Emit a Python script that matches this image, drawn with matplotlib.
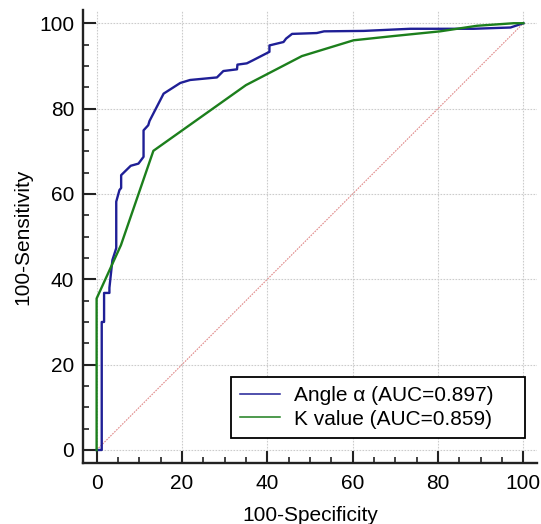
import matplotlib
matplotlib.use("Agg")
import matplotlib.pyplot as plt
from matplotlib.ticker import MultipleLocator

plt.rcParams['font.family'] = ['Liberation Sans', 'DejaVu Sans']

angle_x = [0, 1.2, 1.2, 1.75, 1.75, 3.0, 3.0, 3.7, 4.6, 4.6, 5.35, 5.75, 5.75, 8.0, 9.8, 11.0,
           11.0, 12.1, 12.4, 15.7, 19.6, 21.9, 28.2, 29.7, 32.9, 33.0, 35.2, 36.6, 40.5, 40.5,
           43.8, 44.4, 45.8, 51.6, 53.3, 62.6, 73.5, 88.3, 97.0, 100]
angle_y = [0, 0, 30, 30, 36.8, 36.8, 38, 44.5, 47.3, 58.2, 60.9, 61.4, 64.4, 66.6, 67.1, 68.7,
           74.9, 76.1, 77.1, 83.5, 86.0, 86.7, 87.3, 88.8, 89.2, 90.3, 90.6, 91.3, 93.3, 94.8,
           95.6, 96.4, 97.5, 97.7, 98.1, 98.2, 98.7, 98.7, 99.0, 100]
k_x = [0, 0, 5.7, 13.3, 35.0, 48.1, 60.2, 69.6, 80.5, 89.1, 97.7, 100]
k_y = [0, 35.5, 48, 70.1, 85.5, 92.3, 96.0, 97.0, 98.1, 99.4, 100, 100]
ref_x = [0, 100]
ref_y = [0, 100]
labels = ["Angle \u03b1 (AUC=0.897)", "K value (AUC=0.859)"]

fig = plt.figure(figsize=(5.41, 5.24), dpi=100)
ax = fig.add_axes([82.7/541, 1-463/524, (537-82.7)/541, (463-10)/524])

ax.plot(ref_x, ref_y, color='#e08a8a', lw=0.8, ls=(0, (1.5, 1.0)), zorder=2)
ax.plot(angle_x, angle_y, color='#1f1f96', lw=1.7, label=labels[0], zorder=3)
ax.plot(k_x, k_y, color='#1c7f1c', lw=1.7, label=labels[1], zorder=3)

ax.set_xlim(-3.26, 103.2)
ax.set_ylim(-3.05, 103.1)
ax.xaxis.set_major_locator(MultipleLocator(20))
ax.yaxis.set_major_locator(MultipleLocator(20))
ax.xaxis.set_minor_locator(MultipleLocator(5))
ax.yaxis.set_minor_locator(MultipleLocator(5))
ax.grid(True, which='major', color='#cccccc', lw=0.8, ls=(0, (1.5, 1.2)), zorder=0)
ax.set_axisbelow(True)

for s in ['top', 'right']:
    ax.spines[s].set_visible(False)
for s in ['left', 'bottom']:
    ax.spines[s].set_linewidth(1.7)
    ax.spines[s].set_color('#222222')

ax.tick_params(which='major', direction='in', length=9, width=1.5, labelsize=15, color='#222222')
ax.tick_params(which='minor', direction='in', length=4.5, width=1.2, color='#222222')
ax.tick_params(axis='x', which='major', pad=8)
ax.tick_params(axis='y', which='major', pad=6)

ax.set_xlabel("100-Specificity", fontsize=15, labelpad=9)
ax.set_ylabel("100-Sensitivity", fontsize=15, labelpad=5)

leg = ax.legend(loc='lower left',
                bbox_to_anchor=(231/541, 1-438/524, (525-231)/541, (438-376)/524),
                bbox_transform=fig.transFigure, mode='expand', borderaxespad=0, fontsize=15,
                fancybox=False, framealpha=1, edgecolor='black',
                handlelength=1.9, handletextpad=0.65, labelspacing=0.2,
                borderpad=0.45)
leg.get_frame().set_linewidth(1.3)
for line in leg.get_lines():
    line.set_linewidth(1.1)

fig.savefig("out.png", dpi=100)
